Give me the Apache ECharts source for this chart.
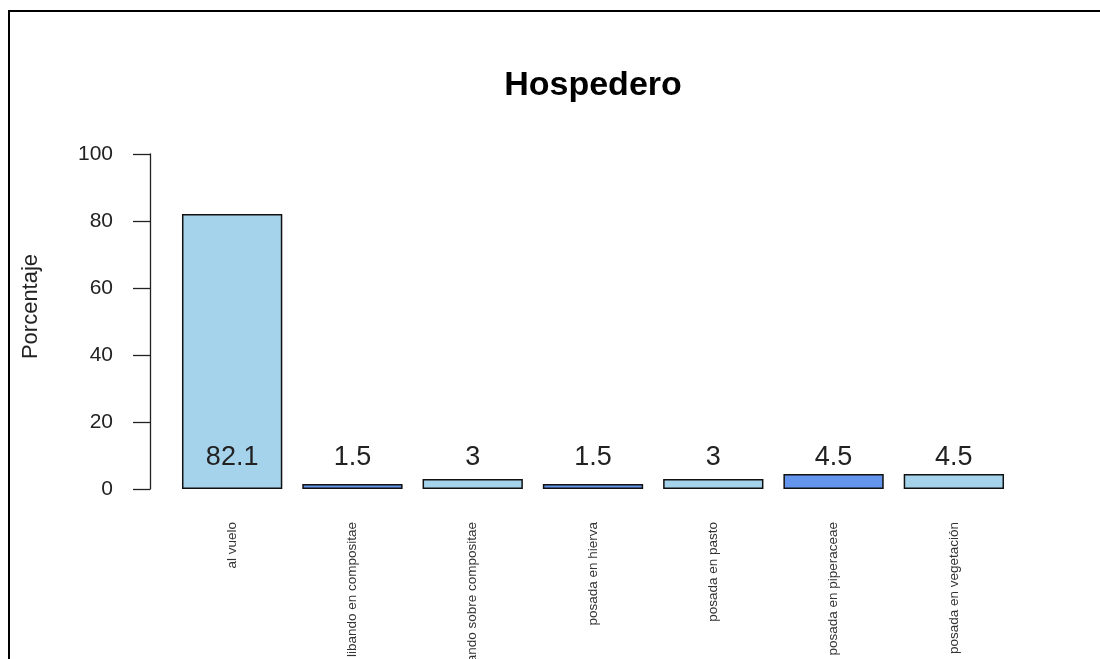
<!DOCTYPE html>
<html>
<head>
<meta charset="utf-8">
<script src="https://cdn.jsdelivr.net/npm/echarts@6/dist/echarts.min.js"></script>
<style>html,body{margin:0;padding:0;background:#fff;}#c{width:1100px;height:659px;}</style>
</head>
<body>
<div id="c"></div>
<script>
const categories = ['al vuelo', 'libando en compositae', 'posando sobre compositae', 'posada en hierva', 'posada en pasto', 'posada en piperaceae', 'posada en vegetación'];
const values = [82.1, 1.5, 3, 1.5, 3, 4.5, 4.5];
const barColors = ['#A6D3EC', '#6495ED', '#A6D3EC', '#6495ED', '#A6D3EC', '#6495ED', '#A6D3EC'];
const yTicks = [0, 20, 40, 60, 80, 100];

const chart = echarts.init(document.getElementById('c'), null, {renderer: 'canvas'});
const font = '"Liberation Sans", Arial, sans-serif';
chart.setOption({
  animation: false,
  backgroundColor: '#fff',
  title: {
    text: 'Hospedero', left: 588, top: 64, textAlign: 'center',
    textStyle: {fontFamily: font, fontSize: 34, fontWeight: 'bold', color: '#000'}
  },
  graphic: [{
    type: 'rect', shape: {x: 9, y: 11, width: 1200, height: 1000},
    style: {fill: 'none', stroke: '#000', lineWidth: 2}, z: 100
  }],
  grid: {left: 172, right: 86, top: 154, bottom: 170, containLabel: false, outerBoundsMode: 'none'},
  xAxis: {
    type: 'category', data: categories,
    axisLine: {show: false}, axisTick: {show: false},
    axisLabel: {rotate: 90, margin: 33, fontSize: 13.5, color: '#333', fontFamily: font, interval: 0, align: 'right'}
  },
  yAxis: {
    type: 'value', min: yTicks[0], max: yTicks[yTicks.length - 1], interval: 20,
    offset: 22,
    name: 'Porcentaje', nameLocation: 'middle', nameGap: 108,
    nameTextStyle: {fontFamily: font, fontSize: 22, color: '#222', padding: [0, 0, 0, 30]},
    axisLine: {show: true, lineStyle: {color: '#222', width: 1.3}},
    axisTick: {show: true, length: 17, lineStyle: {color: '#222', width: 1.3}},
    axisLabel: {margin: 37, fontSize: 21, color: '#222', fontFamily: font},
    splitLine: {show: false}
  },
  series: [{
    type: 'bar', barWidth: '83.4%',
    data: values.map((v, i) => ({value: v, itemStyle: {color: barColors[i]}})),
    itemStyle: {borderColor: '#111', borderWidth: 1.5},
    label: {
      show: true, position: 'insideBottom', distance: 18,
      fontFamily: font, fontSize: 27, color: '#222'
    }
  }]
});
</script>
</body>
</html>
